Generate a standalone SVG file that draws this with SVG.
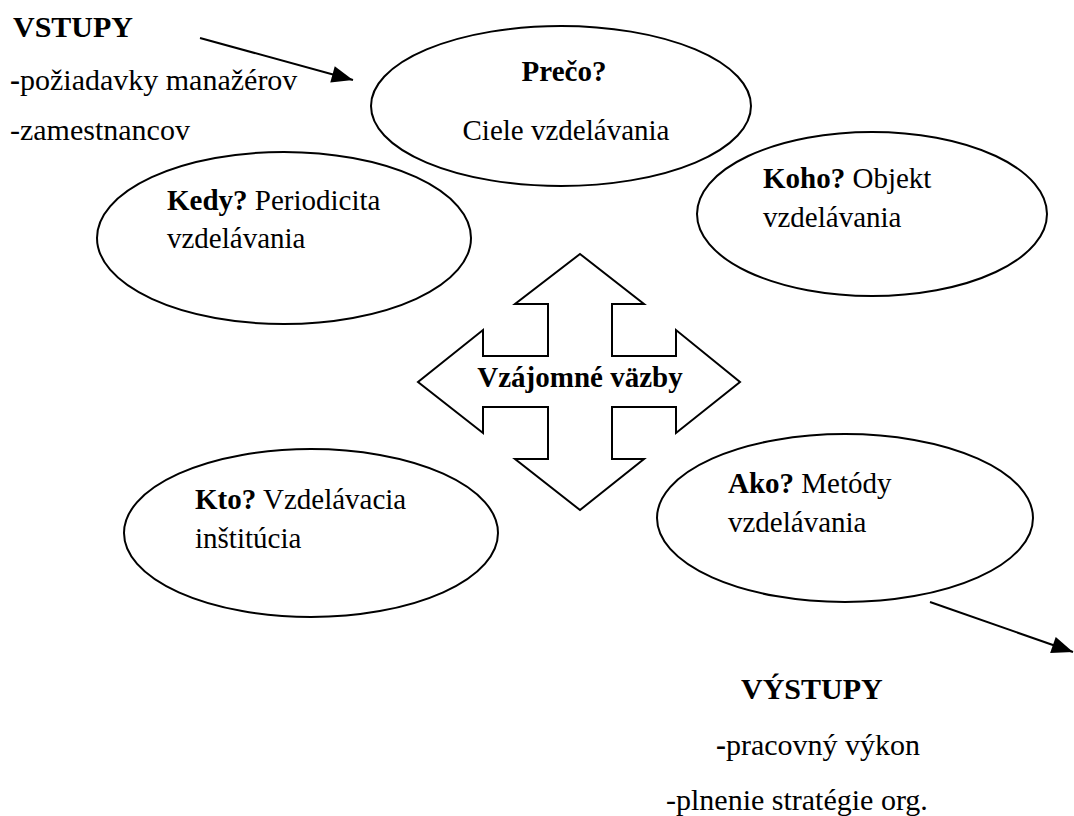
<svg xmlns="http://www.w3.org/2000/svg" width="1074" height="816" viewBox="0 0 1074 816">
<defs>
<style>
.t{font-family:"Liberation Serif","Times New Roman",serif;font-size:29px;fill:#000}
.o{font-family:"Liberation Serif","Times New Roman",serif;font-size:30px;fill:#000}
.b{font-weight:bold}
.e{fill:#fff;stroke:#000;stroke-width:2}
.c{stroke:#000;stroke-width:2;fill:none}
</style>
<marker id="ah" viewBox="0 0 10 10" refX="10" refY="5" markerWidth="10" markerHeight="10" markerUnits="userSpaceOnUse" orient="auto">
<path d="M0,0 L10,5 L0,10 z" fill="#000"/>
</marker>
<marker id="ah2" viewBox="0 0 20 16" refX="20" refY="8" markerWidth="22" markerHeight="17" markerUnits="userSpaceOnUse" orient="auto">
<path d="M0,0 L20,8 L0,16 z" fill="#000"/>
</marker>
</defs>
<rect width="1074" height="816" fill="#fff"/>

<g id="vstupy">
<text class="o b" x="13" y="37">VSTUPY</text>
<text class="o" x="10" y="90"><tspan class="b">-</tspan>požiadavky manažérov</text>
<text class="o" x="10" y="140">-zamestnancov</text>
</g>

<g id="preco">
<ellipse class="e" cx="561" cy="106" rx="190" ry="80"/>
<text class="t b" x="564" y="81" text-anchor="middle">Prečo?</text>
<text class="t" x="566" y="140" text-anchor="middle">Ciele vzdelávania</text>
</g>

<g id="kedy">
<ellipse class="e" cx="284" cy="238" rx="187" ry="86"/>
<text class="t" x="167" y="210"><tspan class="b">Kedy?</tspan> Periodicita</text>
<text class="t" x="167" y="248">vzdelávania</text>
</g>

<g id="koho">
<ellipse class="e" cx="872" cy="214" rx="175" ry="82"/>
<text class="t" x="763" y="188"><tspan class="b">Koho?</tspan> Objekt</text>
<text class="t" x="763" y="227">vzdelávania</text>
</g>

<g id="vazby">
<polygon class="e" points="580,254 644,304 612,304 612,356 676,356 676,330 740,382 676,433 676,407 612,407 612,459 644,459 580,510 515,459 548,459 548,407 483,407 483,433 418,382 483,330 483,356 548,356 548,304 515,304"/>
<text class="t b" x="580" y="387" text-anchor="middle">Vzájomné väzby</text>
</g>

<g id="kto">
<ellipse class="e" cx="311" cy="533" rx="187" ry="84"/>
<text class="t" x="195" y="509"><tspan class="b">Kto?</tspan> Vzdelávacia</text>
<text class="t" x="195" y="548">inštitúcia</text>
</g>

<g id="ako">
<ellipse class="e" cx="845" cy="518" rx="188" ry="84"/>
<text class="t" x="728" y="493"><tspan class="b">Ako?</tspan> Metódy</text>
<text class="t" x="728" y="532">vzdelávania</text>
</g>

<g id="vystupy">
<text class="o b" x="741" y="699">VÝSTUPY</text>
<text class="o" x="716" y="755"><tspan class="b">-</tspan>pracovný výkon</text>
<text class="o" x="666" y="810">-plnenie stratégie org.</text>
</g>

<g id="connectors">
<line class="c" x1="200" y1="38" x2="353" y2="80" marker-end="url(#ah2)"/>
<line class="c" x1="930" y1="602" x2="1073" y2="652" marker-end="url(#ah2)"/>
</g>
</svg>
